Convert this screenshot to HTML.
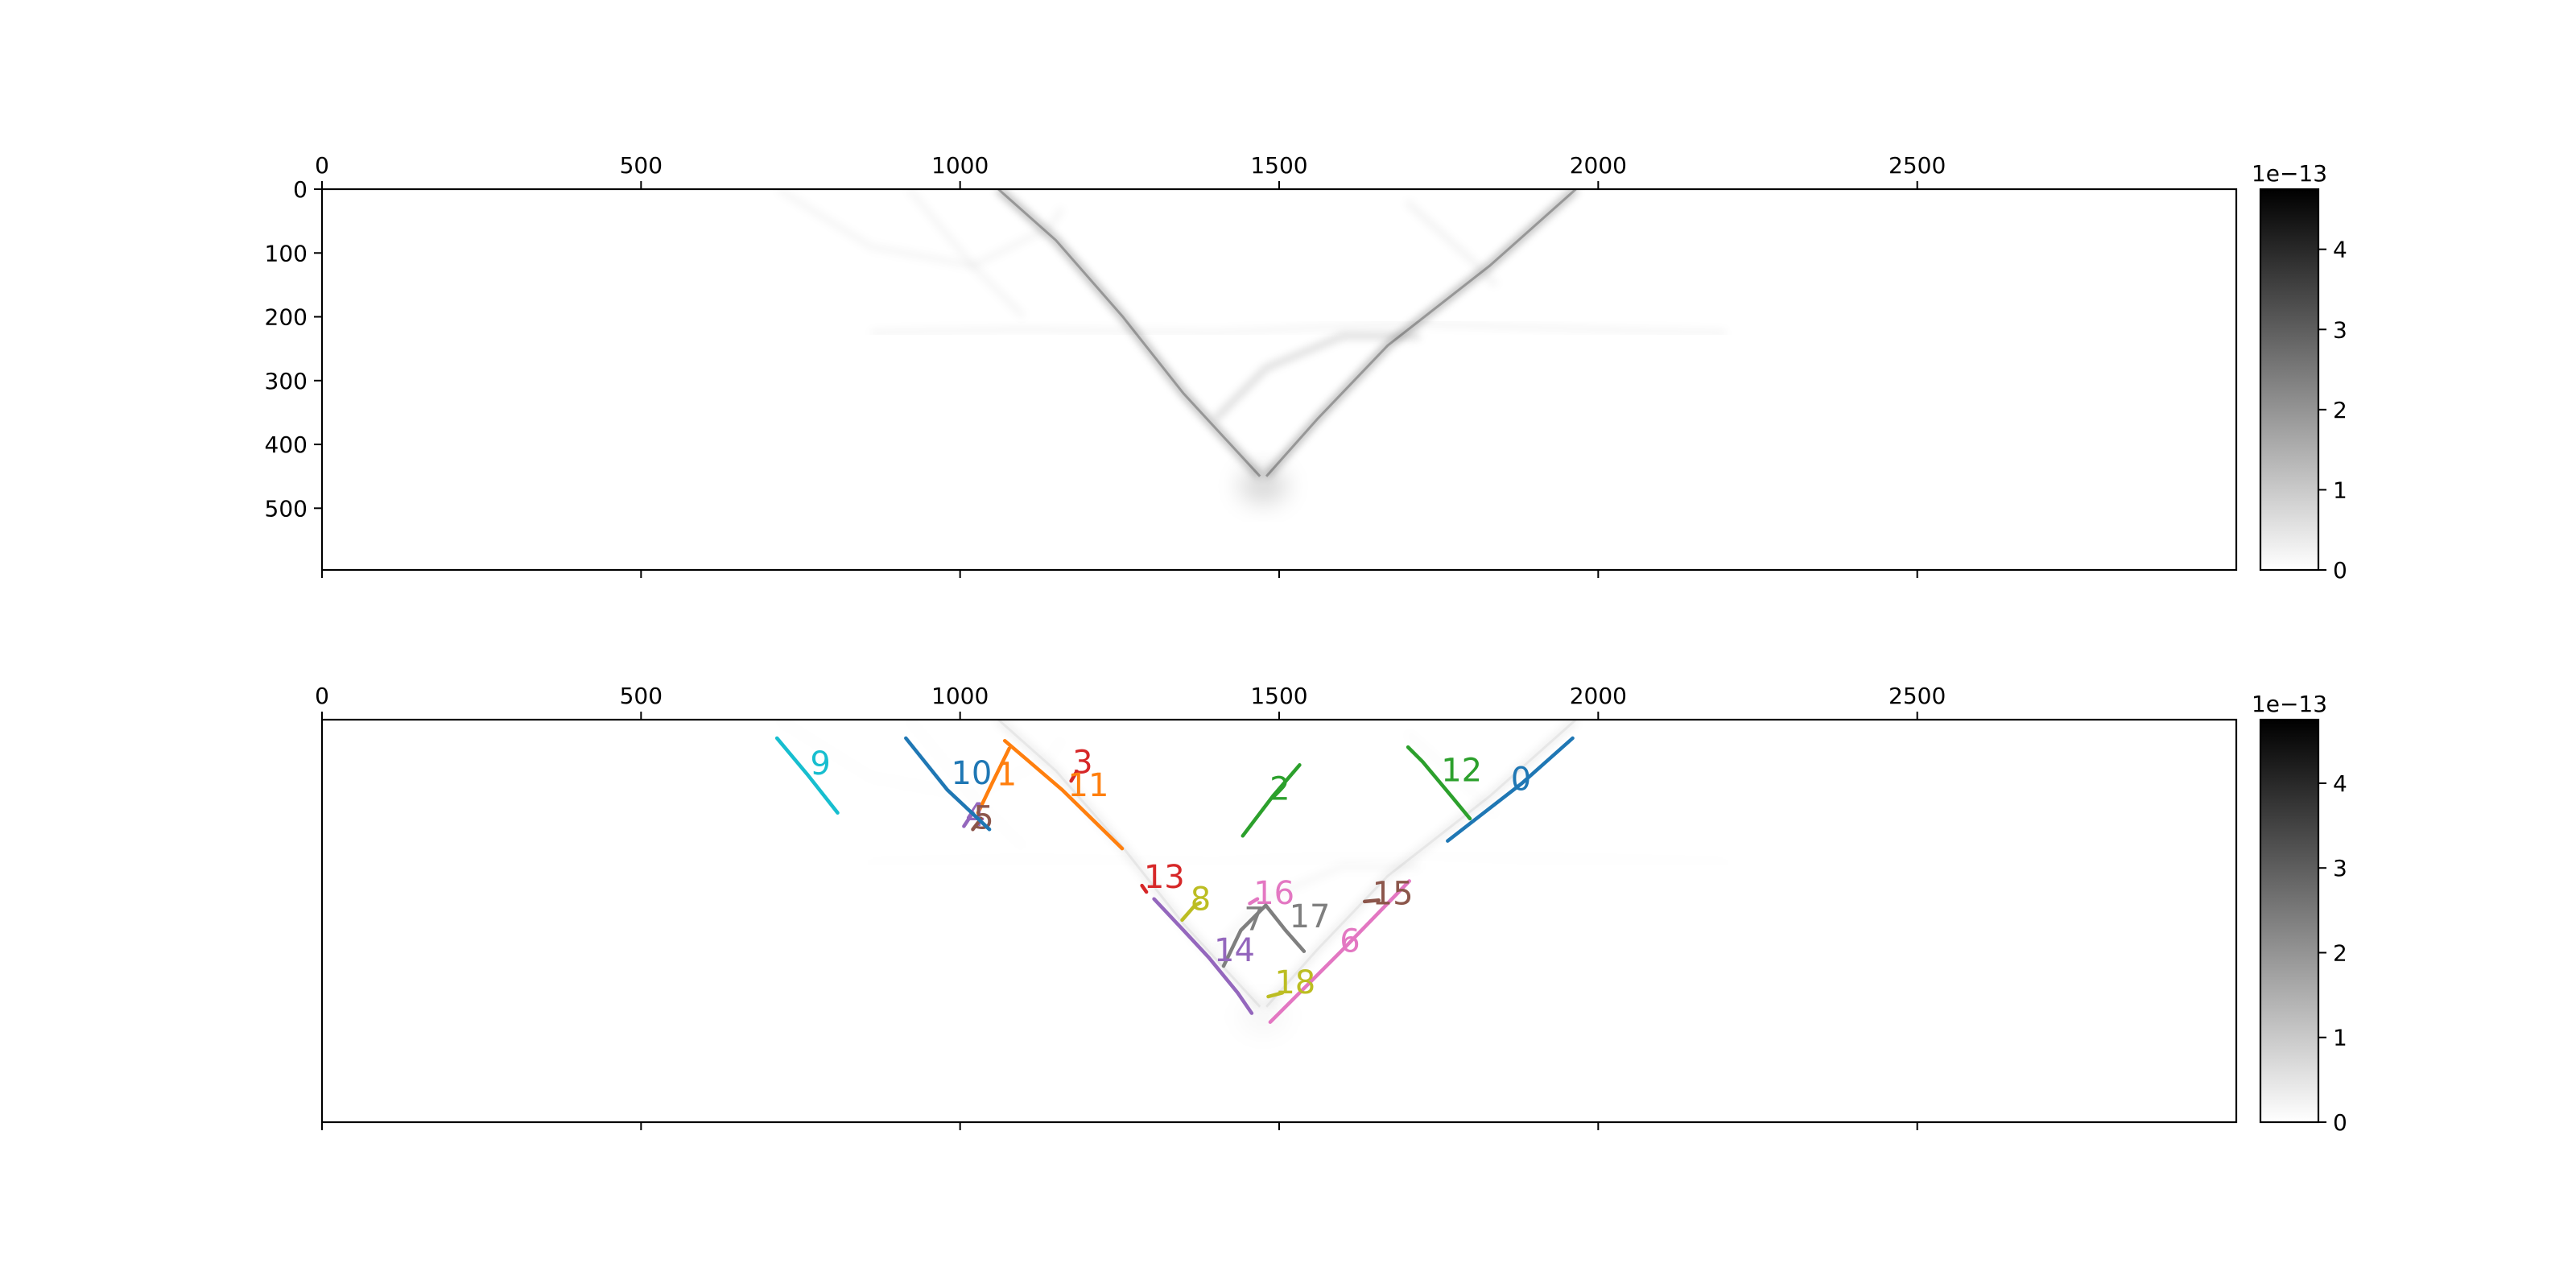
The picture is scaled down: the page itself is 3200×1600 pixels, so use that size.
<!DOCTYPE html>
<html><head><meta charset="utf-8"><style>
html,body{margin:0;padding:0;background:#fff;}
svg{display:block;font-family:"DejaVu Sans","Liberation Sans",sans-serif;}
</style></head><body>
<svg id="fig" width="3200" height="1600" viewBox="0 0 3200 1600" xmlns="http://www.w3.org/2000/svg">
<defs>
<filter id="blur6" x="-20%" y="-20%" width="140%" height="140%"><feGaussianBlur stdDeviation="5"/></filter>
<filter id="blur20" x="-50%" y="-50%" width="200%" height="200%"><feGaussianBlur stdDeviation="14"/></filter>
<linearGradient id="cbgrad" x1="0" y1="1" x2="0" y2="0"><stop offset="0" stop-color="#fff"/><stop offset="1" stop-color="#000"/></linearGradient>
<clipPath id="clipTop"><rect x="400" y="235" width="2378" height="473"/></clipPath>
<clipPath id="clipBot"><rect x="400" y="894" width="2378" height="500"/></clipPath>
</defs>
</svg>
<script>
// ---- data ----
const xTicks=[0,500,1000,1500,2000,2500];
const yTicks=[0,100,200,300,400,500];
const cbTicks=[0,1,2,3,4];
const cbMax=4.75;
// background image ridges (data coords x,y ; intensity)
const ridgeNames=['ridge-left','ridge-right','ridge-faint-a','ridge-faint-b','ridge-band','ridge-arc','ridge-faint-c'];
const ridgePts=[
 [[1060,0],[1150,80],[1255,200],[1350,320],[1470,450]],
 [[1965,0],[1830,120],[1670,245],[1560,360],[1480,450]],
 [[715,0],[860,90],[1020,120],[1140,60],[1160,30]],
 [[920,0],[1020,120],[1100,200]],
 [[860,225],[1100,220],[1400,225],[1700,210],[2000,220],[2200,225]],
 [[1400,360],[1480,280],[1600,230],[1720,230]],
 [[1700,20],[1800,110],[1840,150]]
];
const ridgeAlpha=[0.3,0.3,0.04,0.04,0.04,0.14,0.05];
// tracks
const trackIds=[0,1,2,3,4,5,6,7,8,9,10,11,12,13,14,15,16,17,18];
const trackPts=[
 [[1960,29],[1880,100],[1764,190]],
 [[1028,146],[1050,100],[1077,45]],
 [[1532,71],[1490,120],[1443,182]],
 [[1174,96],[1183,81]],
 [[1020,146],[1006,167]],
 [[1020,172],[1033,155]],
 [[1486,474],[1600,360],[1704,253]],
 [[1413,386],[1440,330],[1479,291]],
 [[1348,314],[1368,291],[1376,287]],
 [[713,29],[760,85],[808,146]],
 [[915,29],[980,110],[1046,172]],
 [[1070,33],[1160,110],[1254,202]],
 [[1702,43],[1725,66],[1770,120],[1799,155]],
 [[1285,260],[1292,270]],
 [[1304,281],[1350,330],[1390,373],[1435,428],[1457,460]],
 [[1634,285],[1656,283]],
 [[1454,288],[1466,281]],
 [[1479,291],[1510,330],[1539,363]],
 [[1483,434],[1505,428]]
];
const labelPos=[[1879,93],[1073,85],[1501,108],[1192,66],[1024,149],[1037,153],[1611,346],[1461,312],[1377,281],[781,68],[1018,83],[1201,102],[1786,79],[1320,246],[1430,361],[1678,272],[1492,271],[1548,308],[1525,411]];
const palette=['#1f77b4','#ff7f0e','#2ca02c','#d62728','#9467bd','#8c564b','#e377c2','#7f7f7f','#bcbd22','#17becf'];

// ---- axes ----
const X0=400,X1=2778,S=2378/3000;
const panels=[{top:235,bot:708,name:'top'},{top:894,bot:1394,name:'bottom'}];
const svg=document.getElementById('fig');
const NS='http://www.w3.org/2000/svg';
function mk(tag,attrs,parent){const e=document.createElementNS(NS,tag);for(const k in attrs)e.setAttribute(k,attrs[k]);(parent||svg).appendChild(e);return e;}
function sx(v){return X0+v*S;}
function path(pts,p){return pts.map((q,i)=>(i?'L':'M')+sx(q[0]).toFixed(1)+','+(p.top+q[1]*S).toFixed(1)).join(' ');}

panels.forEach((p,pi)=>{
  const g=mk('g',{'clip-path':pi?'url(#clipBot)':'url(#clipTop)'});
  
  
  const op=pi?0.2:1;
  // bottom blob
  const blob=mk('ellipse',{cx:sx(1475),cy:p.top+465*S,rx:30,ry:22,fill:'#000','fill-opacity':0.15*op,filter:'url(#blur20)'},g);
  
  
  ridgePts.forEach((pts,i)=>{
    const r=mk('path',{d:path(pts,p),fill:'none',stroke:'#000','stroke-opacity':ridgeAlpha[i]*op,'stroke-width':pi?10:8,'stroke-linejoin':'round',filter:'url(#blur6)'},g);
    
    
    if(i<2){const r2=mk('path',{d:path(pts,p),fill:'none',stroke:'#000','stroke-opacity':0.28*op,'stroke-width':3},g);
      
      }
  });
  // frame
  const fr=mk('rect',{x:X0,y:p.top,width:X1-X0,height:p.bot-p.top,fill:'none',stroke:'#000','stroke-width':2.2});
  
  
  xTicks.forEach(t=>{
    const x=sx(t);
    const a=mk('line',{x1:x,y1:p.top,x2:x,y2:p.top-10,stroke:'#000','stroke-width':2});
    
    
    const b=mk('line',{x1:x,y1:p.bot,x2:x,y2:p.bot+10,stroke:'#000','stroke-width':2});
    
    
    const tl=mk('text',{x:x,y:p.top-20,'font-size':28,'text-anchor':'middle'});
    tl.textContent=t;
    
    
  });
  if(pi===0){
    yTicks.forEach(t=>{
      const y=p.top+t*S;
      const a=mk('line',{x1:X0,y1:y,x2:X0-10,y2:y,stroke:'#000','stroke-width':2});
      
      
      const tl=mk('text',{x:X0-18,y:y+10,'font-size':28,'text-anchor':'end'});
      tl.textContent=t;
      
      
    });
  }
  // colorbar
  const cx=2808,cw=72;
  const cb=mk('rect',{x:cx,y:p.top,width:cw,height:p.bot-p.top,fill:'url(#cbgrad)',stroke:'#000','stroke-width':2.2});
  
  
  const ch=p.bot-p.top;
  cbTicks.forEach(t=>{
    const y=p.bot-t/cbMax*ch;
    const a=mk('line',{x1:cx+cw,y1:y,x2:cx+cw+10,y2:y,stroke:'#000','stroke-width':2});
    
    
    const tl=mk('text',{x:cx+cw+18,y:y+10,'font-size':28});
    tl.textContent=t;
    
    
  });
  const ex=mk('text',{x:cx+cw/2,y:p.top-10,'font-size':28,'text-anchor':'middle'});
  ex.textContent='1e\u221213';
  
  

  if(pi===1){
    trackIds.forEach((id,i)=>{
      const c=palette[id%10];
      const tr=mk('path',{d:path(trackPts[i],p),fill:'none',stroke:c,'stroke-width':4.5,'stroke-linejoin':'round','stroke-linecap':'round'});
      
      
      const lb=mk('text',{x:sx(labelPos[i][0]),y:p.top+labelPos[i][1]*S+14,'font-size':40,'text-anchor':'middle',fill:c});
      lb.textContent=id;
      
      
    });
  }
});
</script>
</body></html>
